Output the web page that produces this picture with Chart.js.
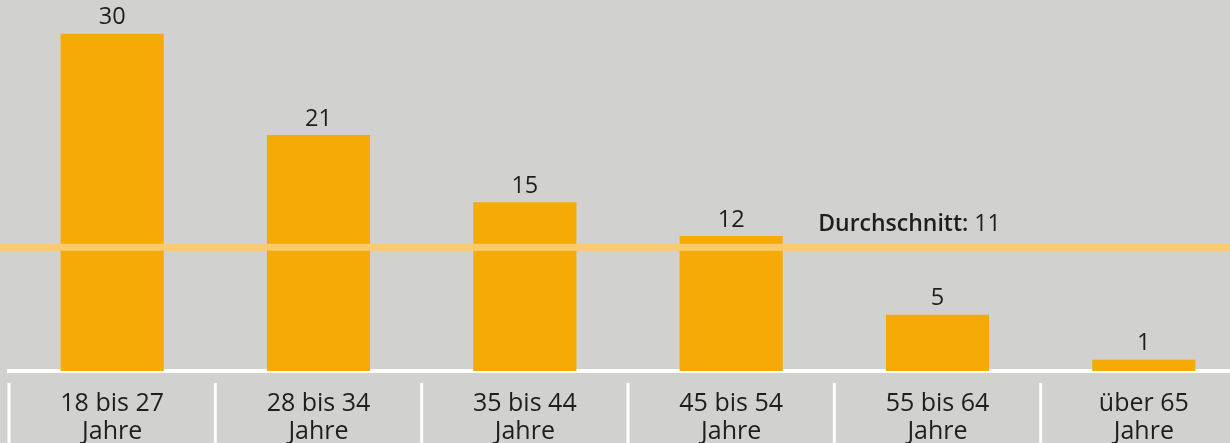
<!DOCTYPE html>
<html>
<head>
<meta charset="utf-8">
<script src="https://cdn.jsdelivr.net/npm/chart.js@4/dist/chart.umd.min.js"></script>
<style>
  html, body { margin: 0; padding: 0; background: #d1d1cf; overflow: hidden; }
  #wrap { position: relative; width: 1256px; height: 443px; }
</style>
</head>
<body>
<div id="wrap"><canvas id="c"></canvas></div>
<script>
const categories = [
  ["18 bis 27", "Jahre"],
  ["28 bis 34", "Jahre"],
  ["35 bis 44", "Jahre"],
  ["45 bis 54", "Jahre"],
  ["55 bis 64", "Jahre"],
  ["über 65", "Jahre"]
];
const values = [30, 21, 15, 12, 5, 1];
const average = 11;
const averageLabel = "Durchschnitt:";

const FONT = "'Open Sans', 'Noto Sans', sans-serif";
const TEXT = "#1e1e1e";

const overlay = {
  id: "overlay",
  afterDatasetsDraw(chart) {
    const ctx = chart.ctx;
    const x = chart.scales.x, y = chart.scales.y;
    const meta = chart.getDatasetMeta(0);
    ctx.save();
    // average line
    const ay = y.getPixelForValue(average);
    ctx.strokeStyle = "#fcc96c";
    ctx.lineWidth = 7;
    ctx.beginPath();
    ctx.moveTo(0, ay);
    ctx.lineTo(chart.width, ay);
    ctx.stroke();
    // average label
    ctx.fillStyle = TEXT;
    ctx.textBaseline = "middle";
    ctx.textAlign = "left";
    const lx = x.getPixelForValue(3) + 87;
    ctx.font = "600 23px " + FONT;
    ctx.fillText(averageLabel, lx, ay - 23);
    const w = ctx.measureText(averageLabel + " ").width;
    ctx.font = "400 23px " + FONT;
    ctx.fillText(String(average), lx + w, ay - 23);
    // value labels
    ctx.textAlign = "center";
    ctx.font = "400 23.5px " + FONT;
    meta.data.forEach((bar, i) => {
      ctx.fillText(String(values[i]), bar.x, bar.y - 16);
    });
    // separators
    const n = categories.length;
    const cw = (x.right - x.left) / n;
    ctx.strokeStyle = "#ffffff";
    ctx.lineWidth = 3;
    for (let i = 0; i <= n; i++) {
      const sx = x.left + i * cw;
      ctx.beginPath();
      ctx.moveTo(sx, chart.chartArea.bottom + 12);
      ctx.lineTo(sx, chart.height);
      ctx.stroke();
    }
    ctx.restore();
  }
};

new Chart(document.getElementById("c"), {
  type: "bar",
  data: {
    labels: categories,
    datasets: [{
      data: values,
      backgroundColor: "#f5aa05",
      borderWidth: 0,
      barPercentage: 0.5,
      categoryPercentage: 1.0
    }]
  },
  options: {
    responsive: true,
    maintainAspectRatio: false,
    animation: false,
    devicePixelRatio: 1,
    layout: { padding: { left: 9, right: 9, top: 0, bottom: 0 } },
    plugins: { legend: { display: false }, tooltip: { enabled: false } },
    scales: {
      y: {
        display: false,
        min: 0,
        max: 33
      },
      x: {
        offset: true,
        grid: { display: false, drawTicks: false },
        border: { display: true, color: "#ffffff", width: 4 },
        ticks: {
          color: TEXT,
          padding: 19,
          font: { family: FONT, size: 25, lineHeight: 1.12 },
          maxRotation: 0,
          autoSkip: false
        },
        afterFit(scale) { scale.height = 72; }
      }
    }
  },
  plugins: [overlay]
});
</script>
</body>
</html>
